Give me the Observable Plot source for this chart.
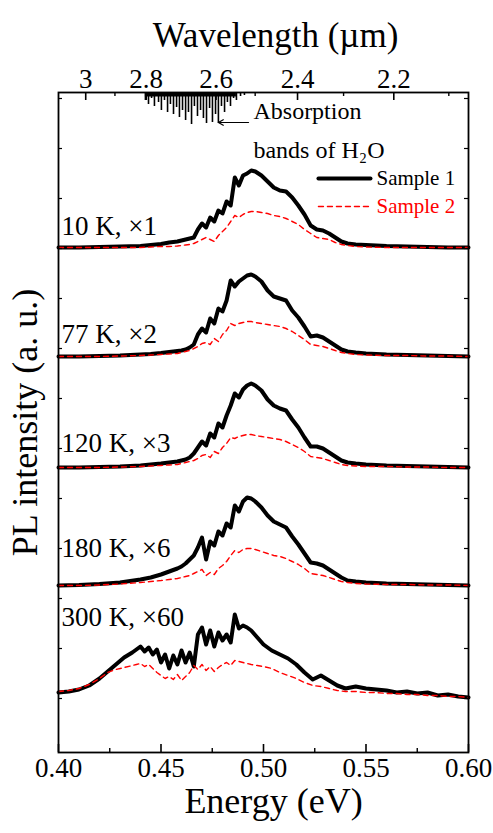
<!DOCTYPE html>
<html>
<head>
<meta charset="utf-8">
<script src="https://cdn.jsdelivr.net/npm/d3@7"></script>
<script src="https://cdn.jsdelivr.net/npm/@observablehq/plot@0.6"></script>
<style>
  html, body { margin: 0; padding: 0; background: #fff; }
  #chart { width: 493px; height: 833px; }
</style>
</head>
<body>
<div id="chart"></div>
<script>
// ---------------- data ----------------
const energyA = [0.400,0.410,0.420,0.430,0.440,0.445,0.450,0.454,0.458,
  0.460,0.462,0.464,0.466,0.468,0.470,0.472,0.474,0.476,0.478,0.480,0.482,0.484,0.486,0.488,0.490,0.492,0.494,0.496,
  0.499,0.502,0.505,0.508,0.511,0.514,0.517,0.520,0.523,0.526,0.529,0.532,0.535,0.538,0.541,
  0.545,0.550,0.560,0.570,0.580,0.590,0.600];

const energyB = [0.400,0.405,0.410,0.415,0.420,0.424,0.428,0.432,0.436,
  0.438,0.440,0.442,0.444,0.446,0.448,0.450,0.452,0.454,0.456,0.458,0.460,0.462,0.464,0.466,0.468,0.470,0.472,0.474,0.476,0.478,0.480,0.482,0.484,0.486,0.488,0.490,0.492,0.494,
  0.497,0.500,0.504,0.508,0.512,0.516,0.520,0.524,0.528,0.532,0.536,0.540,
  0.545,0.550,0.555,0.560,0.565,0.570,0.575,0.580,0.585,0.590,0.595,0.600];

const panelLabels = ["10 K, \u00d71", "77 K, \u00d72", "120 K, \u00d73", "180 K, \u00d76", "300 K, \u00d760"];
const panelOffsets = [505, 396, 285, 167, 0];

const sample1_10K = [0,0,0.5,1,1.5,2.5,3.5,5,6,7,8,9,10,18,24,20,30,26,37,34,46,42,70,62,72,74,77,76,72,66,60,57,56,50,42,33,22,18,17,14,10,6,4,3,2.5,1.5,1,0.5,0,0];
const sample2_10K = [0,0,0,0,0,0.5,1,1,1.5,2,2.5,3,4,6,8,10,8,6,12,16,20,26,32,30,33,35,36,36,35,34,32,31,29,26,23,18,14,10,9,8,5,3,2,1,0.5,0,0,0,0,0];

const sample1_77K = [0,0,0.5,1,2,2.5,3.5,4.5,5.5,6,7,9,12,22,28,24,38,33,48,45,56,76,70,75,78,81,82,80,75,66,60,58,56,46,39,30,20,21,19,15,11,7,5,4,3,2,1.5,1,0.5,0];
const sample2_77K = [0,0,0,0.5,1,1.5,2,2.5,3,4,5,6,8,10,13,14,12,18,15,22,26,33,31,33,34,35,35,34,33,32,31,30,28,25,21,17,12,11,10,8,6,4,3,2,1.5,1,1,0.5,0.5,0];

const sample1_120K = [0,0,0.5,1,2,3,4,5,6,7,8,10,14,20,26,22,34,30,44,40,52,62,74,70,78,82,84,82,77,68,62,59,57,48,40,30,21,21,19,15,11,7,5,4,3,2,1.5,1,0.5,0];
const sample2_120K = [0,0,0,0.5,1,1.5,2,2.5,3,4,5,6,7,9,12,13,10,16,14,20,24,30,29,31,32,33,33,32,31,30,29,28,26,23,20,16,11,10,9,7,5,3,2,1.5,1,1,0.5,0.5,0,0];

const sample1_180K = [0,0.5,1.5,3,6,8,11,14,17,19,22,26,30,38,48,26,44,40,54,50,62,58,80,74,84,88,87,84,78,70,64,61,58,49,41,32,23,22,20,16,12,8,5,4,3,2,1.5,1,0.5,0];
const sample2_180K = [0,0,0.5,1.5,3,4,5,6,7,8,9,10,12,14,16,10,13,11,17,20,24,30,35,33,36,37,37,36,34,32,30,29,27,24,21,17,12,11,10,8,6,4,3,2,1.5,1,1,0.5,0.5,0];

const sample1_300K = [60,61,63,67,74,81,88,95,100,
  103,106,101,105,98,103,90,98,84,97,88,102,90,100,86,118,125,108,122,106,120,112,118,110,138,124,127,125,122,
  115,108,102,98,94,88,80,73,77,72,67,64,
  66,64,63,62,60,61,59,60,57,58,56,55];
const sample2_300K = [61,62,64,68,74,80,83,85,87,
  88,89,86,88,84,80,77,74,76,73,78,72,76,80,87,83,88,82,86,81,85,88,90,87,92,91,90,89,88,
  87,86,84,80,77,74,70,67,66,64,62,61,
  61,60,60,59,59,58,58,57,57,56,56,55];

// H2O absorption bands (energy, depth in a.u. below the top)
const bandEnergy = [0.4424,0.4439,0.4454,0.4468,0.4488,0.4502,0.4517,0.4532,0.4546,0.4561,0.4576,0.4590,0.4605,0.4620,0.4634,0.4649,0.4663,0.4678,0.4693,0.4707,0.4722,0.4737,0.4751,0.4766,0.4780,0.4795,0.4810,0.4824,0.4839,0.4854,0.4868,0.4888,0.4907];
const bandDepth  = [8,12,6,14,10,18,8,20,12,22,15,25,18,28,20,32,14,24,18,26,31,16,30,22,31,14,20,10,14,6,8,4,3];

// axis ticks
const energyTicks = [0.40, 0.45, 0.50, 0.55, 0.60];
const energyMinor = [0.425, 0.475, 0.525, 0.575];
const wavelengthTicks = [3, 2.8, 2.6, 2.4, 2.2];
const wavelengthMinor = [2.9, 2.7, 2.5, 2.3, 2.1];
const intensityTicks = [54,104,154,204,254,304,354,404,454,504,554,604,654];

// ---------------- build ----------------
const hc = 1.23984; // eV·µm
const series1 = [sample1_10K, sample1_77K, sample1_120K, sample1_180K, sample1_300K];
const series2 = [sample2_10K, sample2_77K, sample2_120K, sample2_180K, sample2_300K];
const rows = [];
panelLabels.forEach((p, i) => {
  const grid = i === 4 ? energyB : energyA;
  series1[i].forEach((v, j) => rows.push({E: grid[j], I: panelOffsets[i] + v, panel: p, sample: "Sample 1"}));
  series2[i].forEach((v, j) => rows.push({E: grid[j], I: panelOffsets[i] + v, panel: p, sample: "Sample 2"}));
});
const bands = bandEnergy.map((e, i) => ({E: e, d: bandDepth[i]}));
const labelLift = [21, 22, 24, 37, 135];
const labels = panelLabels.map((p, i) => ({p, y: panelOffsets[i] + labelLift[i]}));

const X0 = 0.40, X1 = 0.60, Ytop = 660;
const pxE = (X1 - X0) / (493 - 58 - 25); // energy per pixel
const font = "'Liberation Serif', 'Times New Roman', serif";

const chart = Plot.plot({
  width: 493,
  height: 833,
  marginLeft: 58,
  marginRight: 25,
  marginTop: 92,
  marginBottom: 81,
  x: {domain: [X0, X1], axis: null},
  y: {domain: [0, Ytop], axis: null},
  style: {fontFamily: font, background: "white", color: "black"},
  marks: [
    // absorption bands hanging from the top
    Plot.ruleX(bands, {x: "E", y1: () => Ytop, y2: d => Ytop - d.d, stroke: "black", strokeWidth: 1.6}),
    Plot.ruleY([Ytop - 2], {x1: () => 0.4424, x2: () => 0.4868, stroke: "black", strokeWidth: 4}),
    // spectra
    Plot.line(rows.filter(d => d.sample === "Sample 1"), {x: "E", y: "I", z: "panel", stroke: "black", strokeWidth: 4, strokeLinejoin: "round"}),
    Plot.line(rows.filter(d => d.sample === "Sample 2"), {x: "E", y: "I", z: "panel", stroke: "#ff0000", strokeWidth: 1.4, strokeDasharray: "5,4"}),
    // panel labels
    Plot.text(labels, {x: () => 0.4015, y: "y", text: "p", textAnchor: "start", fontSize: 27, fill: "black"}),
    // legend
    Plot.line([{x: 0.5268, y: 574}, {x: 0.5522, y: 574}], {x: "x", y: "y", stroke: "black", strokeWidth: 4}),
    Plot.line([{x: 0.5268, y: 546}, {x: 0.5522, y: 546}], {x: "x", y: "y", stroke: "#ff0000", strokeWidth: 1.4, strokeDasharray: "5,4"}),
    Plot.text(["Sample 1"], {x: () => 0.5551, y: () => 574, text: d => d, textAnchor: "start", fontSize: 21, fill: "black"}),
    Plot.text(["Sample 2"], {x: () => 0.5551, y: () => 546, text: d => d, textAnchor: "start", fontSize: 21, fill: "#ff0000"}),
    // annotation
    Plot.arrow([{x1: 0.4927, x2: 0.4780, y: 630}], {x1: "x1", x2: "x2", y1: "y", y2: "y", stroke: "black", strokeWidth: 1.2, headLength: 7}),
    Plot.text(["Absorption"], {x: () => 0.4951, y: () => 641, text: d => d, textAnchor: "start", fontSize: 24, fill: "black"}),
    Plot.text(["bands of H\u2082O"], {x: () => 0.4951, y: () => 602, text: d => d, textAnchor: "start", fontSize: 24, fill: "black"}),
    // frame
    Plot.frame({stroke: "black", strokeWidth: 1.8}),
    // bottom ticks (inward)
    Plot.ruleX(energyTicks, {x: d => d, y1: () => 0, y2: () => 8, stroke: "black", strokeWidth: 1.6}),
    Plot.ruleX(energyMinor, {x: d => d, y1: () => 0, y2: () => 4, stroke: "black", strokeWidth: 1.4}),
    Plot.text(energyTicks, {x: d => d, text: d => d.toFixed(2), frameAnchor: "bottom", dy: 24, fontSize: 27, fill: "black"}),
    // top ticks (wavelength)
    Plot.ruleX(wavelengthTicks, {x: d => hc / d, y1: () => Ytop, y2: () => Ytop - 8, stroke: "black", strokeWidth: 1.6}),
    Plot.ruleX(wavelengthMinor, {x: d => hc / d, y1: () => Ytop, y2: () => Ytop - 4, stroke: "black", strokeWidth: 1.4}),
    Plot.text(wavelengthTicks, {x: d => hc / d, text: d => String(d), frameAnchor: "top", dy: -24, fontSize: 27, fill: "black"}),
    // left / right ticks
    Plot.ruleY(intensityTicks, {y: d => d, x1: () => X0, x2: () => X0 + 4 * pxE, stroke: "black", strokeWidth: 1.2}),
    Plot.ruleY(intensityTicks, {y: d => d, x1: () => X1 - 4 * pxE, x2: () => X1, stroke: "black", strokeWidth: 1.2}),
    // axis titles
    Plot.text(["Wavelength (\u00b5m)"], {text: d => d, frameAnchor: "top", dx: 12, dy: -70, fontSize: 35, fill: "black"}),
    Plot.text(["Energy (eV)"], {text: d => d, frameAnchor: "bottom", dx: 10, dy: 60, fontSize: 36, fill: "black"}),
    Plot.text(["PL intensity (a. u.)"], {text: d => d, frameAnchor: "left", textAnchor: "middle", dx: -33, rotate: -90, fontSize: 36, fill: "black"})
  ]
});
document.getElementById("chart").appendChild(chart);
</script>
</body>
</html>
